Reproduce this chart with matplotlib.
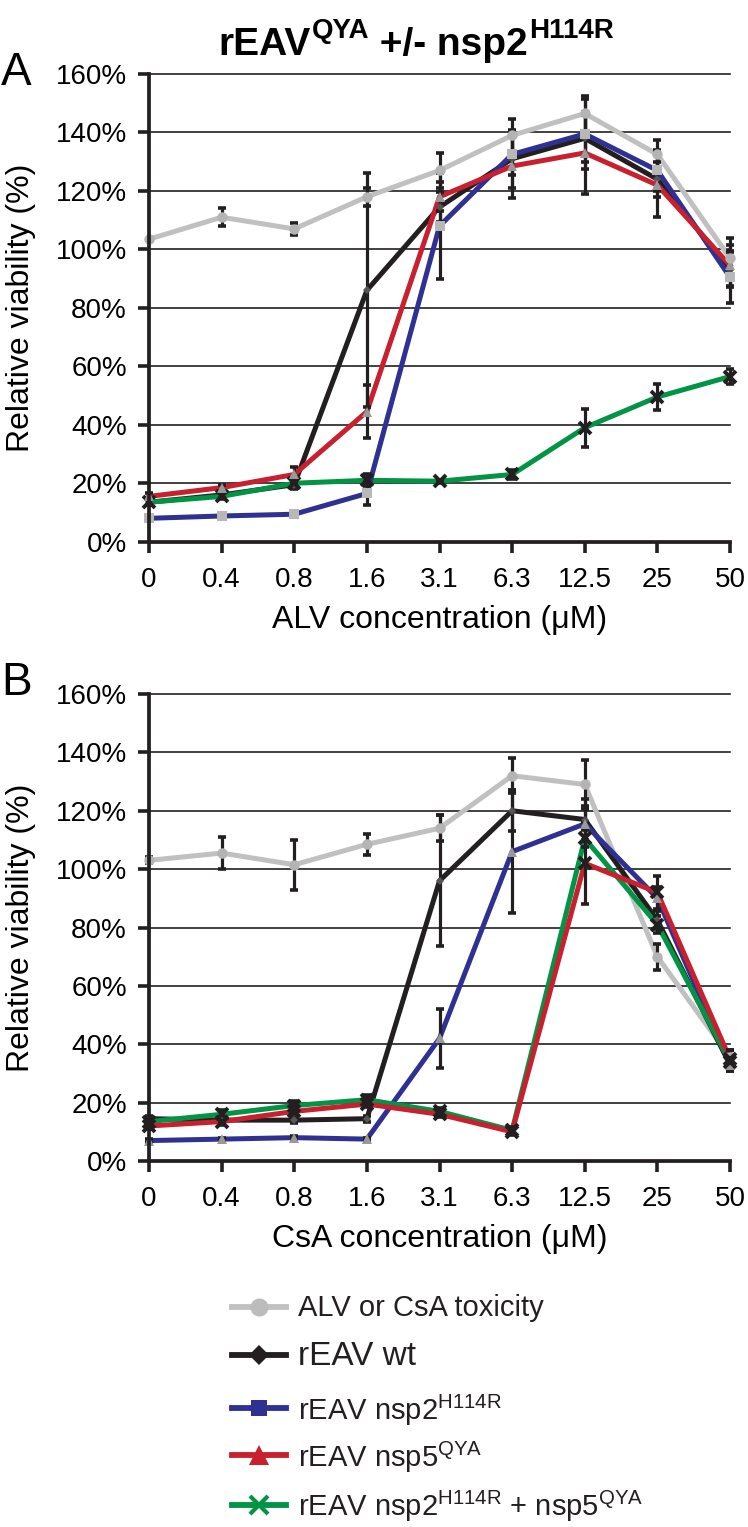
import matplotlib
matplotlib.use('Agg')
import matplotlib.pyplot as plt
from matplotlib.lines import Line2D
import numpy as np

plt.rcParams['font.family'] = ['Liberation Sans', 'DejaVu Sans']
plt.rcParams['mathtext.fontset'] = 'custom'
plt.rcParams['mathtext.rm'] = 'Liberation Sans'
plt.rcParams['mathtext.it'] = 'Liberation Sans:italic'
plt.rcParams['mathtext.bf'] = 'Liberation Sans:bold'

# ---------------- data ----------------
concentrations = ['0', '0.4', '0.8', '1.6', '3.1', '6.3', '12.5', '25', '50']
ytick_labels = ['0%', '20%', '40%', '60%', '80%', '100%', '120%', '140%', '160%']
ytick_values = [0, 20, 40, 60, 80, 100, 120, 140, 160]

# Panel A (ALV)
alv_tox = [103.5, 111, 107, 118, 127, 139, 146.5, 132.5, 97]
alv_tox_err = [0, 3, 2, 3, 6, 5.5, 6, 5, 7]
alv_wt = [13.5, 16, 19.5, 86, 114.5, 131, 138, 124, 93]
alv_wt_err = [1, 1, 1.5, 40, 5, 10, 8, 6, 6]
alv_nsp2 = [8, 8.8, 9.4, 16.5, 108, 132.5, 139.5, 127, 90.5]
alv_nsp2_err = [0.5, 0.5, 0.5, 4, 18, 7, 12, 7, 9]
alv_nsp5 = [15.5, 18.5, 23, 44.5, 118, 128.5, 133, 122, 94.5]
alv_nsp5_err = [1, 1, 2.5, 9, 5, 11, 14, 11, 7]
alv_dbl = [13.5, 15.5, 20, 21, 20.7, 23, 39, 49.5, 56.5]
alv_dbl_err = [1, 1, 1, 2, 0.5, 1.5, 6.5, 4.5, 2.5]

# Panel B (CsA)
csa_tox = [103, 105.5, 101.5, 108.5, 114, 132, 129, 70, 35.5]
csa_tox_err = [1, 5.5, 8.5, 3.5, 4.5, 6, 8.5, 4.5, 2.5]
csa_wt = [14.5, 14, 14, 14.5, 96, 120, 117, 82.5, 33]
csa_wt_err = [1, 1, 1, 1, 22.5, 7, 7, 3, 2]
csa_nsp2 = [7, 7.5, 8, 7.5, 42, 106, 115.5, 90, 33]
csa_nsp2_err = [0.5, 0.5, 0.5, 0.5, 10, 21, 6, 4, 2]
csa_nsp5 = [12, 13.5, 17, 19.5, 16, 10, 102, 92, 35]
csa_nsp5_err = [1, 1, 1, 1, 1, 1, 14, 5.5, 3]
csa_dbl = [13.5, 16, 19, 21, 17, 10.5, 110.5, 81, 34]
csa_dbl_err = [1, 1.5, 1.5, 1.5, 1, 1, 3, 3, 2]

legend_labels = ['ALV or CsA toxicity', 'rEAV wt', r'rEAV nsp2$^{\mathrm{H114R}}$',
                 r'rEAV nsp5$^{\mathrm{QYA}}$', r'rEAV nsp2$^{\mathrm{H114R}}$ + nsp5$^{\mathrm{QYA}}$']

# ---------------- styles ----------------
GRAY = '#c0c0c0'
BLACK = '#231f20'
BLUE = '#2e3192'
RED = '#c8202f'
GREEN = '#009444'

W, H = 748, 1527
fig = plt.figure(figsize=(W / 100, H / 100), dpi=100)

def fx(px):
    return px / W

def fy(py):
    return 1 - py / H

axA = fig.add_axes([fx(149), fy(541.7), fx(730) - fx(149), fy(74) - fy(541.7)])
axB = fig.add_axes([fx(149), fy(1161), fx(730) - fx(149), fy(694) - fy(1161)])

x = np.arange(len(concentrations))

def style_axes(ax, xlabel):
    ax.set_xlim(0, len(concentrations) - 1)
    ax.set_ylim(0, 160)
    ax.set_yticks(ytick_values)
    ax.set_yticklabels(ytick_labels, fontsize=20)
    ax.set_xticks(x)
    ax.set_xticklabels(concentrations, fontsize=20)
    for s in ['top', 'right']:
        ax.spines[s].set_visible(False)
    for s in ['left', 'bottom']:
        ax.spines[s].set_linewidth(2.7)
        ax.spines[s].set_color(BLACK)
        ax.spines[s].set_zorder(8)
    ax.tick_params(axis='both', direction='out', length=8, width=2.6, color=BLACK)
    ax.tick_params(axis='x', pad=10)
    ax.tick_params(axis='y', pad=8)
    ax.yaxis.grid(True, color=BLACK, lw=1.2)
    ax.set_axisbelow(True)
    for gl in ax.get_ygridlines():
        gl.set_clip_on(False)
    ax.set_xlabel(xlabel, fontsize=23)
    ax.set_ylabel('Relative viability (%)', fontsize=23)
    ax.patch.set_alpha(0)

def draw_series(ax, y, err, color, marker, mcolor, ms, mew=0, z=3):
    ax.plot(x, y, color=color, lw=3.6, zorder=z, clip_on=False, solid_joinstyle='round')
    ax.errorbar(x, y, yerr=err, fmt='none', ecolor=BLACK, elinewidth=2.3,
                capsize=3.2, capthick=2.6, zorder=6, clip_on=False)
    if marker == 'x':
        ax.plot(x, y, linestyle='none', marker=marker, ms=ms, mec=mcolor,
                mew=mew, zorder=7, clip_on=False)
    else:
        ax.plot(x, y, linestyle='none', marker=marker, ms=ms, mfc=mcolor,
                mec=mcolor, mew=0, zorder=7, clip_on=False)

# Panel A
draw_series(axA, alv_wt, alv_wt_err, BLACK, 'D', '#555555', 4.5)
draw_series(axA, alv_dbl, alv_dbl_err, GREEN, 'x', BLACK, 9, mew=2.8)
draw_series(axA, alv_nsp2, alv_nsp2_err, BLUE, 's', '#b8b8b8', 6.5)
draw_series(axA, alv_nsp5, alv_nsp5_err, RED, '^', '#999999', 6.5)
draw_series(axA, alv_tox, alv_tox_err, GRAY, 'o', '#b4b4b4', 7.5, z=4)
style_axes(axA, 'ALV concentration (μM)')

# Panel B
draw_series(axB, csa_tox, csa_tox_err, GRAY, 'o', '#b4b4b4', 7.5)
draw_series(axB, csa_wt, csa_wt_err, BLACK, 'D', '#555555', 4.5)
draw_series(axB, csa_nsp2, csa_nsp2_err, BLUE, '^', '#999999', 6.5)
draw_series(axB, csa_dbl, csa_dbl_err, GREEN, 'x', BLACK, 9, mew=2.8)
draw_series(axB, csa_nsp5, csa_nsp5_err, RED, 'x', BLACK, 9, mew=2.8)
style_axes(axB, 'CsA concentration (μM)')

for ax in (axA, axB):
    ax.yaxis.set_label_coords(-0.195, 0.5)
    ax.xaxis.set_label_coords(0.5, -0.135)

# Panel letters
fig.text(fx(1), fy(85), 'A', fontsize=33, va='baseline', ha='left')
fig.text(fx(1), fy(695), 'B', fontsize=33, va='baseline', ha='left')

# Title with superscripts
t1 = fig.text(fx(218), fy(63), 'rEAV', fontsize=28, fontweight='bold', va='bottom')
t2 = axA.annotate('QYA', xy=(1, 0), xycoords=t1, xytext=(1, 14), textcoords='offset points',
                  fontsize=20, fontweight='bold', va='bottom', annotation_clip=False)
t3 = axA.annotate(' +/- nsp2', xy=(1, 0), xycoords=(t2, t1), xytext=(0, 0),
                  textcoords='offset points', fontsize=28, fontweight='bold', va='bottom',
                  annotation_clip=False)
t4 = axA.annotate('H114R', xy=(1, 0), xycoords=t3, xytext=(1, 14), textcoords='offset points',
                  fontsize=20, fontweight='bold', va='bottom', annotation_clip=False)

# Legend (manual)
leg_styles = [
    dict(color=GRAY, marker='o', ms=13, mfc='#bcbcbc', mec='#bcbcbc', mew=0),
    dict(color=BLACK, marker='D', ms=10, mfc=BLACK, mec=BLACK, mew=0),
    dict(color=BLUE, marker='s', ms=11, mfc=BLUE, mec=BLUE, mew=0),
    dict(color=RED, marker='^', ms=14, mfc=RED, mec=RED, mew=0),
    dict(color=GREEN, marker='x', ms=13, mfc=GREEN, mec=GREEN, mew=3),
]
row_y = [1307, 1355, 1408, 1455, 1505]
row_base = [1316, 1365, 1420, 1467, 1516]
row_fs = [21, 24, 21, 21, 21]
for st, lab, ry, rb, fs in zip(leg_styles, legend_labels, row_y, row_base, row_fs):
    ln = Line2D([fx(232), fx(286)], [fy(ry), fy(ry)], transform=fig.transFigure,
                lw=4.2, color=st['color'])
    fig.add_artist(ln)
    mk = Line2D([fx(259)], [fy(ry)], transform=fig.transFigure, linestyle='none',
                marker=st['marker'], ms=st['ms'], mfc=st['mfc'], mec=st['mec'], mew=st['mew'])
    fig.add_artist(mk)
    fig.text(fx(298), fy(rb), lab, fontsize=fs, va='baseline', ha='left', color=BLACK)

fig.savefig('out.png', dpi=100)
